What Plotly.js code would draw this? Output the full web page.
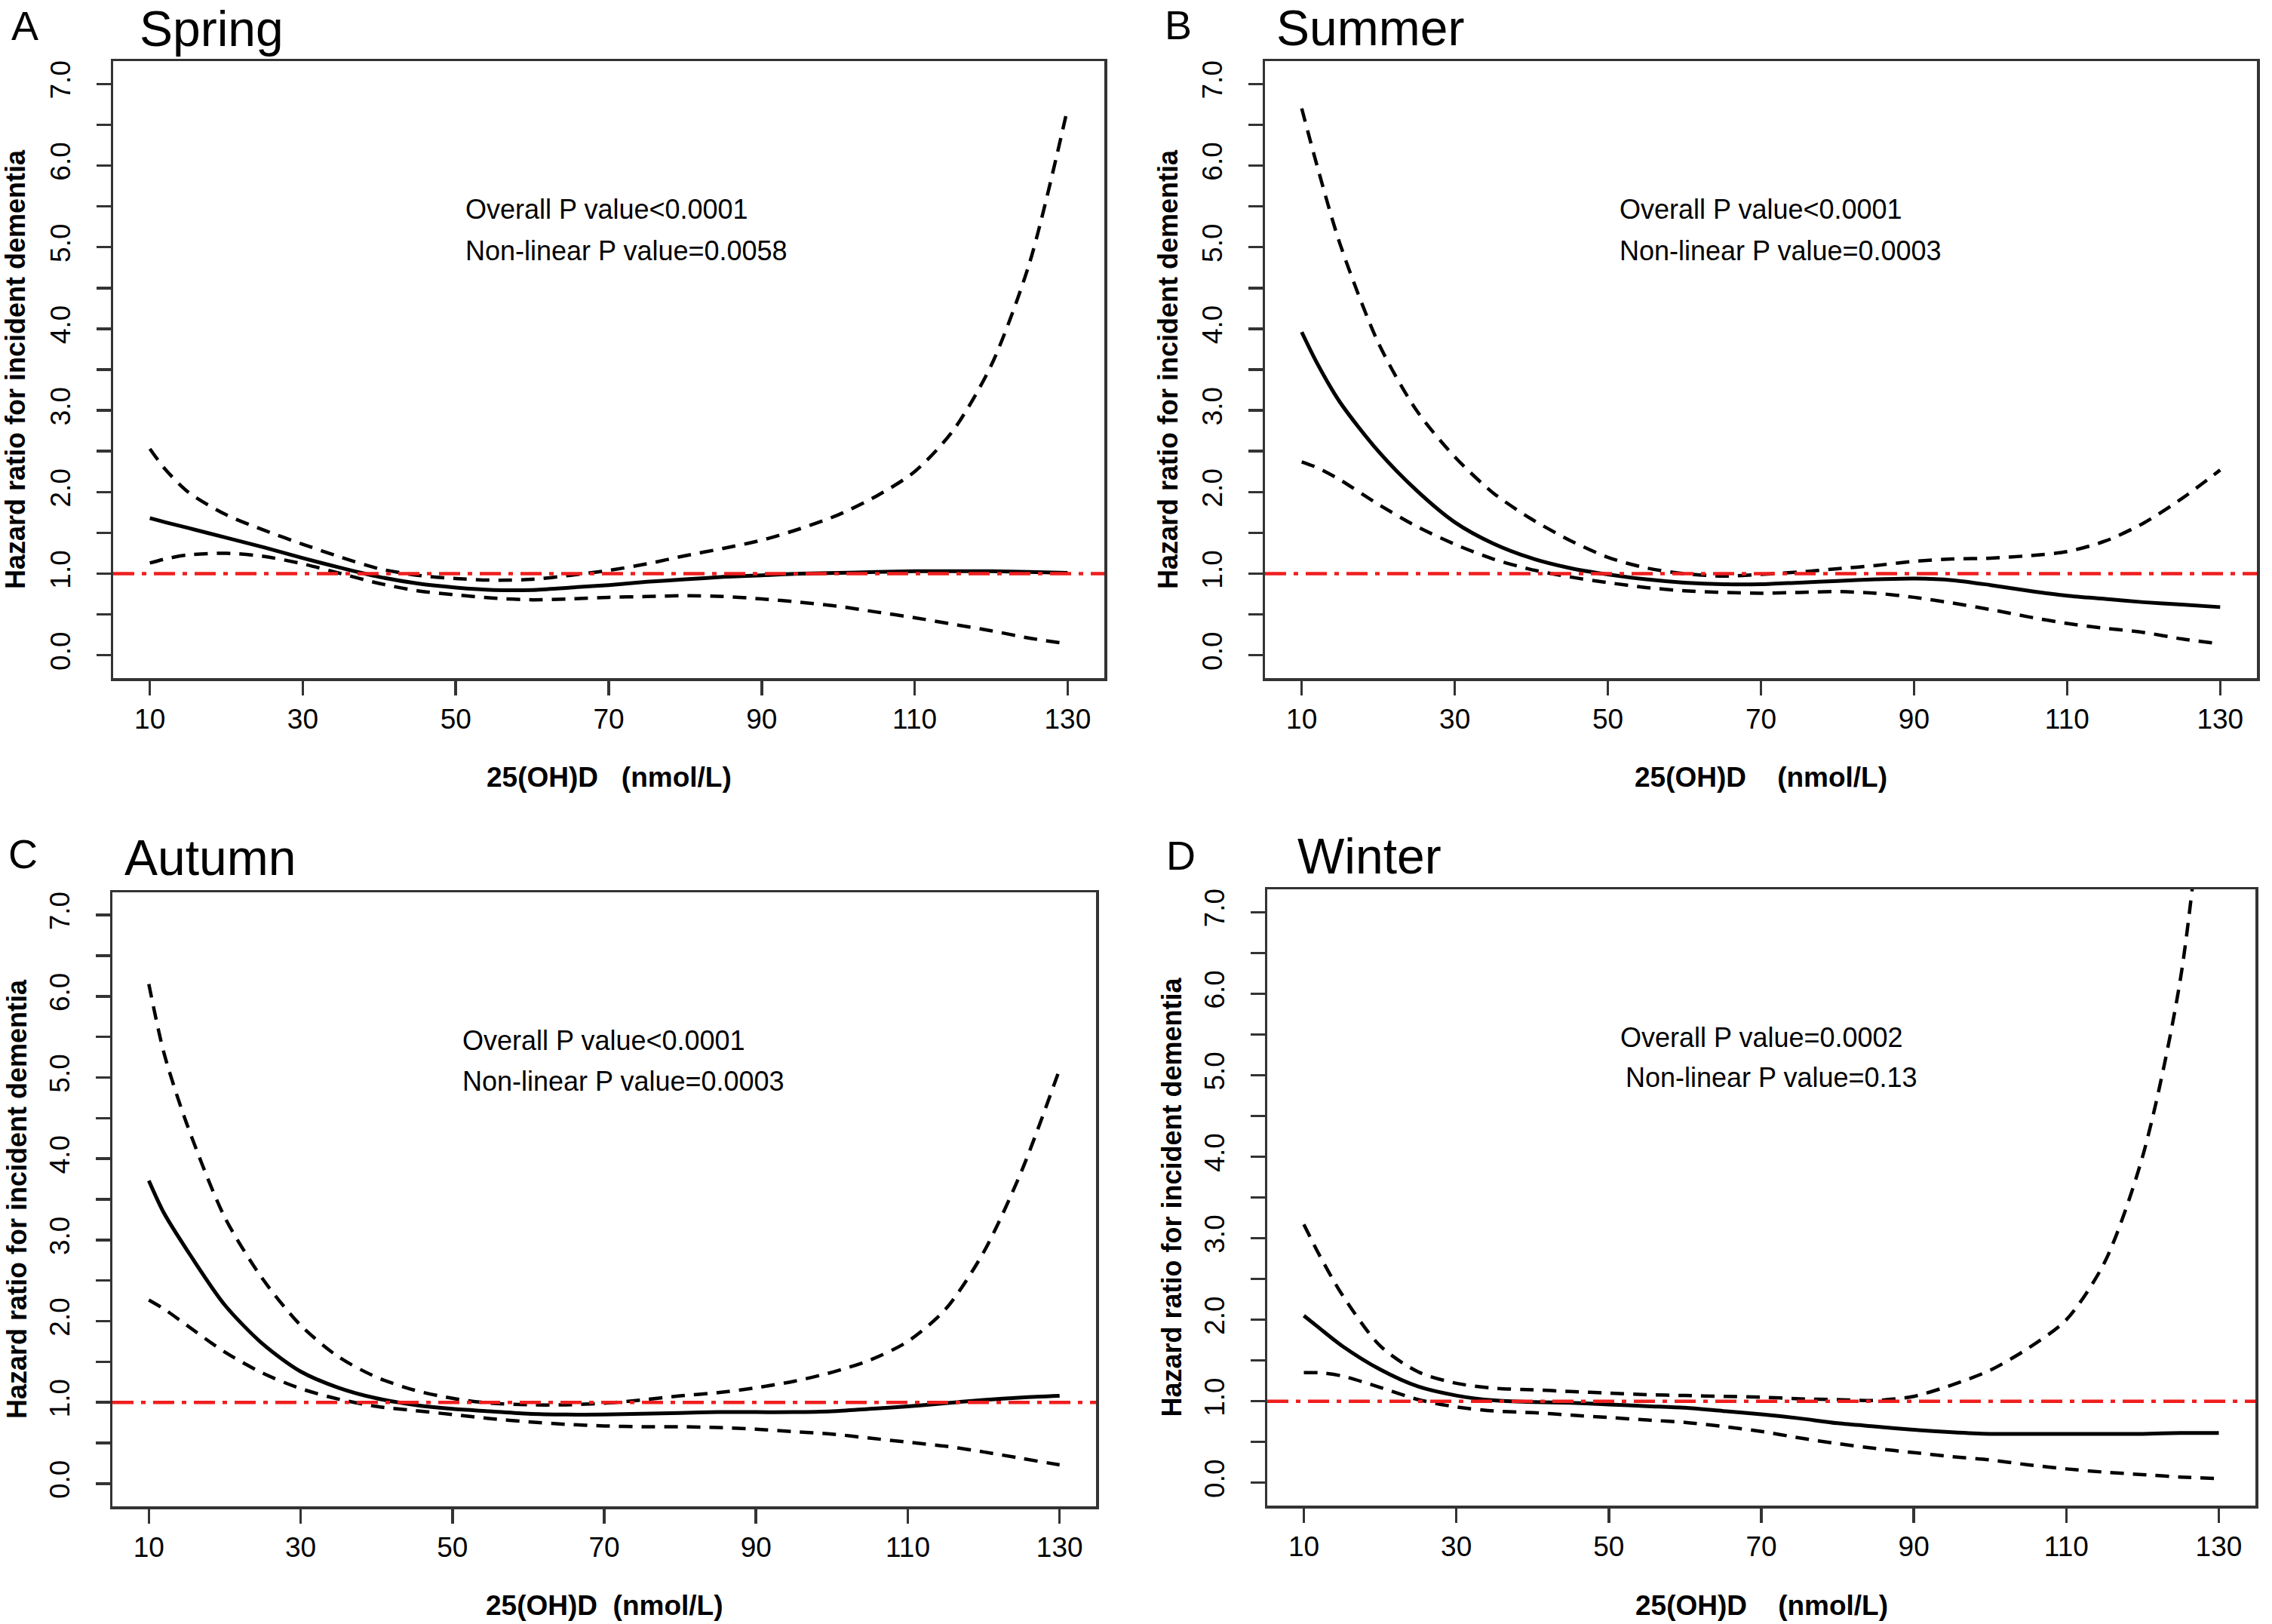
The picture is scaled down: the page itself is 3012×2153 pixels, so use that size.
<!DOCTYPE html>
<html>
<head>
<meta charset="utf-8">
<script src="https://cdn.plot.ly/plotly-3.0.1.min.js"></script>
<style>html,body{margin:0;padding:0;background:#fff;}#chart{width:3012px;height:2153px;}</style>
</head>
<body>
<div id="chart"></div>
<script>
// ---- data ----
const xVals = [10,12,15,20,25,30,35,40,45,50,55,60,65,70,75,80,85,90,95,100,105,110,115,120,125,130];

const springFit   = [1.68,1.63,1.56,1.44,1.32,1.19,1.07,0.96,0.88,0.83,0.80,0.80,0.83,0.86,0.90,0.93,0.96,0.98,1.00,1.01,1.02,1.03,1.03,1.03,1.02,1.01];
const springUpper = [2.53,2.28,2.00,1.72,1.53,1.36,1.20,1.06,0.98,0.94,0.92,0.93,0.98,1.04,1.12,1.22,1.31,1.41,1.55,1.72,1.95,2.25,2.75,3.55,4.80,6.70];
const springLower = [1.13,1.18,1.23,1.25,1.21,1.12,1.00,0.88,0.79,0.74,0.70,0.68,0.69,0.71,0.72,0.73,0.72,0.69,0.65,0.60,0.53,0.46,0.38,0.30,0.21,0.14];

const summerFit   = [3.96,3.58,3.10,2.50,2.02,1.63,1.37,1.19,1.07,0.99,0.93,0.89,0.87,0.87,0.89,0.91,0.93,0.94,0.92,0.86,0.79,0.73,0.69,0.65,0.62,0.59];
const summerUpper = [6.70,6.00,5.04,3.83,3.00,2.43,1.99,1.67,1.41,1.20,1.07,1.00,0.97,0.99,1.02,1.06,1.10,1.15,1.18,1.19,1.22,1.27,1.40,1.62,1.92,2.27];
const summerLower = [2.37,2.30,2.15,1.85,1.58,1.36,1.18,1.05,0.96,0.89,0.83,0.79,0.77,0.76,0.77,0.78,0.76,0.71,0.64,0.56,0.47,0.39,0.33,0.28,0.20,0.14];

const autumnFit   = [3.73,3.33,2.88,2.20,1.72,1.38,1.18,1.05,0.97,0.92,0.89,0.86,0.85,0.85,0.86,0.87,0.88,0.88,0.88,0.89,0.92,0.95,0.99,1.03,1.06,1.08];
const autumnUpper = [6.15,5.30,4.43,3.28,2.52,1.95,1.56,1.31,1.15,1.05,0.99,0.97,0.97,0.99,1.03,1.08,1.12,1.18,1.26,1.37,1.52,1.75,2.15,2.85,3.85,5.10];
const autumnLower = [2.26,2.15,1.95,1.62,1.36,1.17,1.04,0.95,0.90,0.85,0.80,0.76,0.73,0.71,0.70,0.70,0.69,0.67,0.64,0.61,0.56,0.51,0.46,0.39,0.31,0.23];

const winterFit   = [2.05,1.90,1.68,1.39,1.18,1.07,1.01,0.99,0.98,0.96,0.94,0.92,0.88,0.84,0.79,0.73,0.69,0.65,0.62,0.60,0.60,0.60,0.60,0.60,0.61,0.61];
const winterUpper = [3.17,2.80,2.31,1.68,1.36,1.22,1.16,1.14,1.12,1.10,1.08,1.07,1.06,1.05,1.03,1.02,1.01,1.06,1.20,1.38,1.65,2.00,2.70,4.00,6.20,10.50];
const winterLower = [1.35,1.35,1.31,1.17,1.02,0.93,0.88,0.86,0.83,0.80,0.77,0.74,0.69,0.63,0.55,0.48,0.42,0.37,0.32,0.28,0.22,0.17,0.13,0.10,0.07,0.05];

const refLevel = 1.0;
const xTickVals = [10,30,50,70,90,110,130];
const yTickVals = [0,0.5,1,1.5,2,2.5,3,3.5,4,4.5,5,5.5,6,6.5,7];
const yTickText = ["0.0","","1.0","","2.0","","3.0","","4.0","","5.0","","6.0","","7.0"];

const panelLetters = ["A","B","C","D"];
const panelTitles  = ["Spring","Summer","Autumn","Winter"];
const overallP     = ["Overall P value<0.0001","Overall P value<0.0001","Overall P value<0.0001","Overall P value=0.0002"];
const nonlinearP   = ["Non-linear P value=0.0058","Non-linear P value=0.0003","Non-linear P value=0.0003","Non-linear P value=0.13"];
const yTitle = "Hazard ratio for incident dementia";
const xTitles = ["25(OH)D\u00a0\u00a0\u00a0(nmol/L)","25(OH)D\u00a0\u00a0\u00a0\u00a0(nmol/L)","25(OH)D\u00a0\u00a0(nmol/L)","25(OH)D\u00a0\u00a0\u00a0\u00a0(nmol/L)"];

// ---- layout geometry (pixels of the 3012x2153 page) ----
const W = 3012, H = 2153;
const FONT = "Liberation Sans, Arial, Helvetica, sans-serif";
const panels = [
  {l:150,  r:1464, t:81,   b:899,  fit:springFit, up:springUpper, lo:springLower,
   letter:[33,2], title:[183,38], p1:[615,277], p2:[615,332], ytx:21,  xty:1030},
  {l:1677, r:2992, t:81,   b:899,  fit:summerFit, up:summerUpper, lo:summerLower,
   letter:[1562,1], title:[1690,37], p1:[2145,277], p2:[2145,332], ytx:1549, xty:1030},
  {l:149,  r:1453, t:1183, b:1997, fit:autumnFit, up:autumnUpper, lo:autumnLower,
   letter:[30,1100], title:[163,1137], p1:[611,1379], p2:[611,1433], ytx:22, xty:2128},
  {l:1680, r:2990, t:1179, b:1996, fit:winterFit, up:winterUpper, lo:winterLower,
   letter:[1565,1102], title:[1718,1135], p1:[2146,1375], p2:[2153,1428], ytx:1553, xty:2128}
];
const px = v => v / W;
const py = v => 1 - v / H;

const traces = [];
const layout = {
  width: W, height: H,
  margin: {l:0, r:0, t:0, b:0},
  paper_bgcolor: "#ffffff", plot_bgcolor: "#ffffff",
  showlegend: false,
  font: {family: FONT, color: "#000"},
  annotations: []
};

panels.forEach((p, i) => {
  const n = i === 0 ? "" : String(i + 1);
  const xa = "x" + n, ya = "y" + n;
  traces.push({x: xVals, y: p.fit, xaxis: xa, yaxis: ya, type: "scatter", mode: "lines",
    line: {color: "#000", width: 5, shape: "spline", smoothing: 0.8}, hoverinfo: "skip"});
  traces.push({x: xVals, y: p.up, xaxis: xa, yaxis: ya, type: "scatter", mode: "lines",
    line: {color: "#000", width: 4.5, dash: "18px,12px", shape: "spline", smoothing: 0.8}, hoverinfo: "skip"});
  traces.push({x: xVals, y: p.lo, xaxis: xa, yaxis: ya, type: "scatter", mode: "lines",
    line: {color: "#000", width: 4.5, dash: "18px,12px", shape: "spline", smoothing: 0.8}, hoverinfo: "skip"});
  traces.push({x: [5.2, 134.8], y: [refLevel, refLevel], xaxis: xa, yaxis: ya, type: "scatter", mode: "lines",
    line: {color: "#f01e1e", width: 4.5, dash: "28px,10px,6px,10px"}, hoverinfo: "skip"});

  layout["xaxis" + n] = {
    domain: [px(p.l), px(p.r)], anchor: ya, range: [5.2, 134.8],
    showline: true, mirror: true, linecolor: "#333", linewidth: 3.5,
    ticks: "outside", ticklen: 19, tickwidth: 3.5, tickcolor: "#333",
    tickvals: xTickVals, ticktext: xTickVals.map(String),
    tickfont: {family: FONT, size: 37, color: "#000"},
    showgrid: false, zeroline: false, fixedrange: true
  };
  layout["yaxis" + n] = {
    domain: [py(p.b), py(p.t)], anchor: xa, range: [-0.28, 7.28],
    showline: true, mirror: true, linecolor: "#333", linewidth: 3.5,
    ticks: "outside", ticklen: 19, tickwidth: 3.5, tickcolor: "#333",
    tickvals: yTickVals, ticktext: yTickText, tickangle: -90, ticklabelstandoff: 20,
    tickfont: {family: FONT, size: 37, color: "#000"},
    showgrid: false, zeroline: false, fixedrange: true
  };

  const A = layout.annotations;
  A.push({xref:"paper", yref:"paper", x:px(p.letter[0]), y:py(p.letter[1]), xanchor:"center", yanchor:"top",
    text: panelLetters[i], showarrow:false, font:{family:FONT, size:54, color:"#000"}});
  A.push({xref:"paper", yref:"paper", x:px(p.title[0]), y:py(p.title[1]), xanchor:"left", yanchor:"middle",
    text: panelTitles[i], showarrow:false, font:{family:FONT, size:66, color:"#000"}});
  A.push({xref:"paper", yref:"paper", x:px(p.p1[0]), y:py(p.p1[1]), xanchor:"left", yanchor:"middle",
    text: overallP[i], showarrow:false, font:{family:FONT, size:36, color:"#000"}});
  A.push({xref:"paper", yref:"paper", x:px(p.p2[0]), y:py(p.p2[1]), xanchor:"left", yanchor:"middle",
    text: nonlinearP[i], showarrow:false, font:{family:FONT, size:36, color:"#000"}});
  A.push({xref:"paper", yref:"paper", x:px(p.ytx), y:py((p.t + p.b) / 2), xanchor:"center", yanchor:"middle",
    text: "<b>" + yTitle + "</b>", textangle:-90, showarrow:false, font:{family:FONT, size:36, color:"#000"}});
  A.push({xref:"paper", yref:"paper", x:px((p.l + p.r) / 2), y:py(p.xty), xanchor:"center", yanchor:"middle",
    text: "<b>" + xTitles[i] + "</b>", showarrow:false, font:{family:FONT, size:37, color:"#000"}});
});

Plotly.newPlot("chart", traces, layout, {staticPlot: true, displayModeBar: false});
</script>
</body>
</html>
